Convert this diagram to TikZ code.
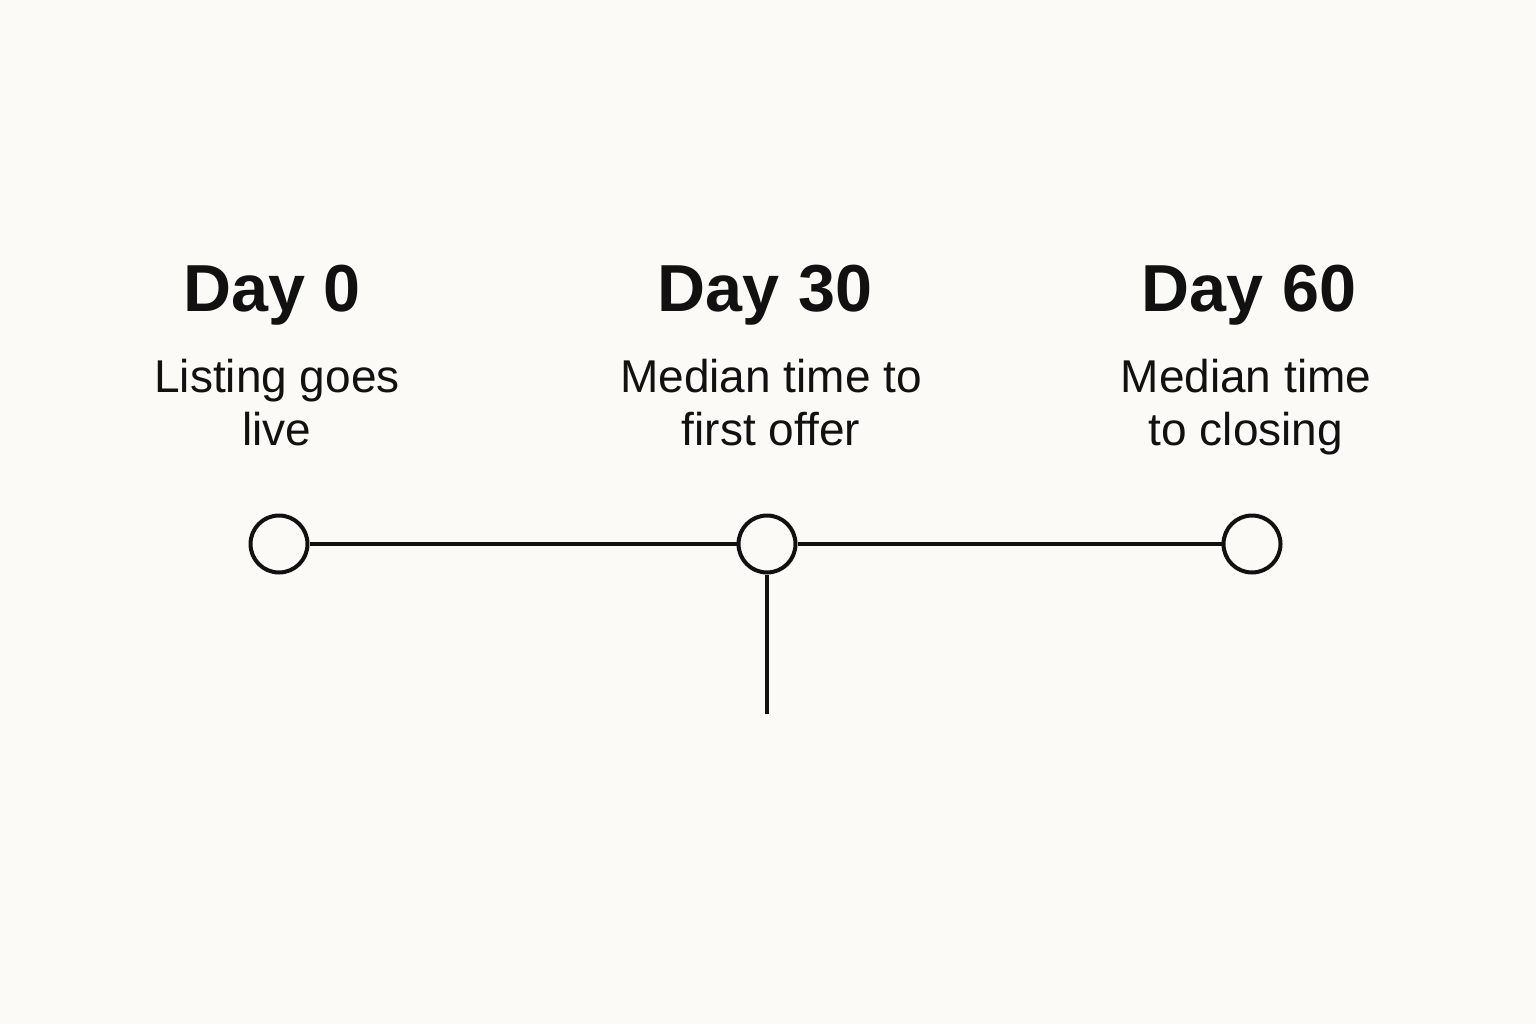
\documentclass[tikz,border=0pt]{standalone}
\usepackage{fontspec}
\setmainfont{Liberation Sans}
\definecolor{bg}{HTML}{FBFAF7}
\definecolor{ink}{HTML}{111111}
\begin{document}
\begin{tikzpicture}[x=1pt,y=-1pt,
  dot/.style={circle,draw=ink,line width=4pt,fill=bg,minimum size=57pt,inner sep=0pt},
  link/.style={draw=ink,line width=4pt},
  daylbl/.style={anchor=base,text=ink,font=\fontsize{66.5}{80}\selectfont\bfseries},
  sublbl/.style={anchor=base,text=ink,align=center,font=\fontsize{46}{53}\selectfont}]
\fill[bg] (0,0) rectangle (1536,1024);
\useasboundingbox (0,0) rectangle (1536,1024);
\coordinate (tail) at (767,714);
\node[dot] (c0) at (279,544) {};
\node[dot] (c30) at (767,544) {};
\node[dot] (c60) at (1252,544) {};
\draw[link] (c0) -- (c30);
\draw[link] (c30) -- (c60);
\draw[link] (c30) -- (tail);
\node[daylbl] (d0) at (272,312) {Day 0};
\node[daylbl] (d30) at (765,312) {Day 30};
\node[daylbl] (d60) at (1249,312) {Day 60};
\node[sublbl] (s0) at (277,445) {Listing goes\\live};
\node[sublbl] (s30) at (771,445) {Median time to\\first offer};
\node[sublbl] (s60) at (1246,445) {Median time\\to closing};
\end{tikzpicture}
\end{document}
